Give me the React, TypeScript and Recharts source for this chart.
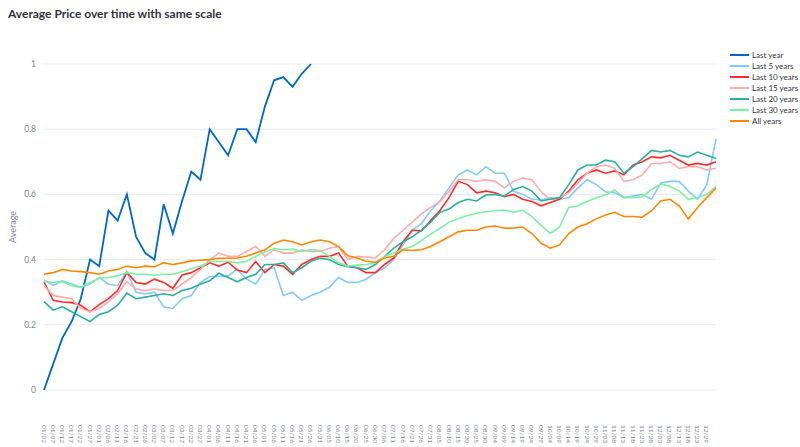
import { LineChart, Line, XAxis, YAxis, CartesianGrid } from "recharts";

// category labels (one point every 5 days), last entry has no tick label
const dates = [
  "01/02", "01/07", "01/12", "01/17", "01/22", "01/27",
  "02/01", "02/06", "02/11", "02/16", "02/21", "02/26",
  "03/02", "03/07", "03/12", "03/17", "03/22", "03/27",
  "04/01", "04/06", "04/11", "04/16", "04/21", "04/26",
  "05/01", "05/06", "05/11", "05/16", "05/21", "05/26", "05/31",
  "06/05", "06/10", "06/15", "06/20", "06/25", "06/30",
  "07/06", "07/11", "07/16", "07/21", "07/26", "07/31",
  "08/05", "08/10", "08/15", "08/20", "08/25", "08/30",
  "09/04", "09/09", "09/14", "09/19", "09/24", "09/29",
  "10/04", "10/09", "10/14", "10/19", "10/24", "10/29",
  "11/03", "11/08", "11/13", "11/18", "11/23", "11/28",
  "12/03", "12/08", "12/13", "12/18", "12/23", "12/29",
  "12/31",
];
const tickLabels = dates.slice(0, 73);

const lastYear = [
  0, 0.08, 0.16, 0.21, 0.28, 0.4, 0.38, 0.55, 0.52, 0.6,
  0.47, 0.42, 0.4, 0.57, 0.48, 0.58, 0.67, 0.645, 0.8, 0.76,
  0.72, 0.8, 0.8, 0.76, 0.87, 0.95, 0.96, 0.93, 0.97, 1,
];

const last5Years = [
  0.338, 0.32, 0.335, 0.325, 0.315, 0.325, 0.345, 0.325, 0.32, 0.363,
  0.3, 0.295, 0.3, 0.255, 0.25, 0.28, 0.29, 0.33, 0.348, 0.348,
  0.35, 0.37, 0.34, 0.325, 0.37, 0.375, 0.29, 0.3, 0.275, 0.29,
  0.3, 0.315, 0.345, 0.33, 0.33, 0.34, 0.36, 0.375, 0.4, 0.445,
  0.49, 0.51, 0.55, 0.58, 0.62, 0.66, 0.675, 0.66, 0.685, 0.665,
  0.665, 0.61, 0.6, 0.585, 0.583, 0.59, 0.585, 0.59, 0.62, 0.645,
  0.63, 0.608, 0.605, 0.59, 0.595, 0.6, 0.585, 0.635, 0.64, 0.64,
  0.61, 0.585, 0.63, 0.77,
];

const last10Years = [
  0.332, 0.275, 0.27, 0.268, 0.26, 0.24, 0.262, 0.28, 0.305, 0.36,
  0.33, 0.325, 0.34, 0.33, 0.312, 0.353, 0.36, 0.375, 0.39, 0.38,
  0.392, 0.368, 0.36, 0.394, 0.36, 0.385, 0.38, 0.355, 0.385, 0.4,
  0.41, 0.41, 0.42, 0.38, 0.375, 0.36, 0.36, 0.385, 0.405, 0.455,
  0.49, 0.488, 0.52, 0.55, 0.59, 0.64, 0.63, 0.605, 0.61, 0.605,
  0.593, 0.6, 0.585, 0.578, 0.565, 0.575, 0.585, 0.61, 0.645, 0.665,
  0.675, 0.665, 0.672, 0.66, 0.69, 0.7, 0.715, 0.712, 0.72, 0.705,
  0.69, 0.695, 0.69, 0.7,
];

const last15Years = [
  0.32, 0.29, 0.285, 0.28, 0.25, 0.24, 0.25, 0.27, 0.295, 0.332,
  0.31, 0.305, 0.31, 0.305, 0.305, 0.325, 0.345, 0.37, 0.4, 0.42,
  0.41, 0.41, 0.425, 0.44, 0.41, 0.43, 0.42, 0.42, 0.43, 0.425,
  0.425, 0.435, 0.44, 0.4, 0.41, 0.408, 0.405, 0.43, 0.465, 0.49,
  0.515, 0.54, 0.56, 0.578, 0.61, 0.645, 0.645, 0.64, 0.645, 0.64,
  0.62, 0.64, 0.65, 0.645, 0.608, 0.585, 0.59, 0.605, 0.635, 0.665,
  0.685, 0.69, 0.68, 0.64, 0.645, 0.66, 0.695, 0.695, 0.7, 0.68,
  0.685, 0.685, 0.675, 0.68,
];

const last20Years = [
  0.271, 0.245, 0.255, 0.24, 0.225, 0.21, 0.232, 0.24, 0.26, 0.297,
  0.28, 0.285, 0.29, 0.295, 0.29, 0.305, 0.312, 0.325, 0.335, 0.358,
  0.345, 0.332, 0.345, 0.355, 0.385, 0.385, 0.39, 0.36, 0.375, 0.395,
  0.404, 0.4, 0.385, 0.378, 0.375, 0.37, 0.385, 0.41, 0.435, 0.455,
  0.47, 0.49, 0.515, 0.545, 0.555, 0.575, 0.585, 0.58, 0.598, 0.6,
  0.595, 0.615, 0.624, 0.61, 0.58, 0.585, 0.59, 0.63, 0.675, 0.69,
  0.69, 0.705, 0.7, 0.665, 0.685, 0.71, 0.735, 0.73, 0.735, 0.72,
  0.715, 0.73, 0.72, 0.71,
];

const last30Years = [
  0.332, 0.33, 0.333, 0.32, 0.315, 0.33, 0.343, 0.345, 0.35, 0.36,
  0.355, 0.355, 0.352, 0.355, 0.355, 0.363, 0.372, 0.38, 0.394, 0.394,
  0.394, 0.39, 0.395, 0.41, 0.424, 0.434, 0.43, 0.432, 0.425, 0.43,
  0.428, 0.41, 0.39, 0.38, 0.383, 0.385, 0.39, 0.41, 0.42, 0.432,
  0.44, 0.458, 0.478, 0.495, 0.515, 0.525, 0.535, 0.542, 0.547, 0.55,
  0.552, 0.545, 0.552, 0.532, 0.505, 0.48, 0.5, 0.56, 0.565, 0.578,
  0.59, 0.598, 0.613, 0.59, 0.59, 0.593, 0.615, 0.632, 0.625, 0.61,
  0.585, 0.59, 0.6, 0.625,
];

const allYears = [
  0.355, 0.36, 0.37, 0.365, 0.363, 0.36, 0.355, 0.365, 0.37, 0.38,
  0.375, 0.38, 0.378, 0.39, 0.385, 0.39, 0.396, 0.398, 0.4, 0.404,
  0.404, 0.405, 0.41, 0.42, 0.43, 0.45, 0.46, 0.455, 0.445, 0.455,
  0.46, 0.455, 0.44, 0.412, 0.405, 0.395, 0.392, 0.405, 0.41, 0.43,
  0.428, 0.43, 0.44, 0.455, 0.47, 0.485, 0.49, 0.49, 0.5, 0.503,
  0.496, 0.497, 0.5, 0.48, 0.45, 0.435, 0.445, 0.48, 0.5, 0.51,
  0.525, 0.537, 0.545, 0.532, 0.532, 0.53, 0.55, 0.58, 0.585, 0.565,
  0.525, 0.56, 0.59, 0.62,
];

const yTicks = [0, 0.2, 0.4, 0.6, 0.8, 1];

const series = [
  { key: "lastYear", name: "Last year", color: "#0068c9" },
  { key: "last5", name: "Last 5 years", color: "#83c9ff" },
  { key: "last10", name: "Last 10 years", color: "#ff2b2b" },
  { key: "last15", name: "Last 15 years", color: "#ffabab" },
  { key: "last20", name: "Last 20 years", color: "#29b09d" },
  { key: "last30", name: "Last 30 years", color: "#7defa1" },
  { key: "all", name: "All years", color: "#ff8700" },
];

const data = dates.map((date, i) => ({
  date,
  lastYear: lastYear[i],
  last5: last5Years[i],
  last10: last10Years[i],
  last15: last15Years[i],
  last20: last20Years[i],
  last30: last30Years[i],
  all: allYears[i],
}));

const FONT = "Lato, 'Noto Sans', sans-serif";

const DateTick = ({ x, y, payload }: any) => {
  if (!tickLabels.includes(payload.value)) return <g />;
  const ty = y + 27;
  return (
    <text
      x={x}
      y={ty}
      transform={`rotate(90, ${x}, ${ty})`}
      textAnchor="start"
      dominantBaseline="central"
      fontSize={6.5}
      fill="#808495"
      fontFamily={FONT}
    >
      {payload.value}
    </text>
  );
};

const App = () => {
  return (
    <div
      style={{
        position: "absolute",
        left: 0,
        top: 0,
        width: 800,
        height: 447,
        background: "#fff",
        fontFamily: FONT,
      }}
    >
      <div
        style={{
          position: "absolute",
          left: 8,
          top: 7,
          fontSize: 12,
          fontWeight: 700,
          color: "#31333f",
          lineHeight: "14px",
        }}
      >
        Average Price over time with same scale
      </div>

      <LineChart
        width={800}
        height={447}
        data={data}
        margin={{ top: 64, right: 84, bottom: 7, left: 0 }}
      >
        <CartesianGrid vertical={false} stroke="#e6e9ef" />
        <XAxis
          dataKey="date"
          interval={0}
          tick={<DateTick />}
          tickLine={false}
          axisLine={false}
          height={50}
        />
        <YAxis
          domain={[0, 1]}
          ticks={yTicks}
          tickFormatter={(v: number) => String(v)}
          tick={{ fontSize: 8.5, fill: "#808495", fontFamily: FONT }}
          tickLine={false}
          axisLine={false}
          width={44}
          label={{
            value: "Average",
            angle: -90,
            position: "insideLeft",
            offset: 13,
            style: { textAnchor: "middle", fontSize: 9, fill: "#808495", fontFamily: FONT },
          }}
        />
        {series.map((s) => (
          <Line
            key={s.key}
            type="linear"
            dataKey={s.key}
            name={s.name}
            stroke={s.color}
            strokeWidth={s.key === "lastYear" ? 1.8 : 1.6}
            dot={false}
            activeDot={false}
            isAnimationActive={false}
          />
        ))}
      </LineChart>

      <div style={{ position: "absolute", left: 730, top: 49 }}>
        {series.map((s) => (
          <div
            key={s.key}
            style={{ display: "flex", alignItems: "center", height: 11.1 }}
          >
            <div style={{ width: 19, height: 2, background: s.color, marginRight: 3 }} />
            <span style={{ fontSize: 8, color: "#31333f", whiteSpace: "nowrap" }}>{s.name}</span>
          </div>
        ))}
      </div>
    </div>
  );
};

export default App;
